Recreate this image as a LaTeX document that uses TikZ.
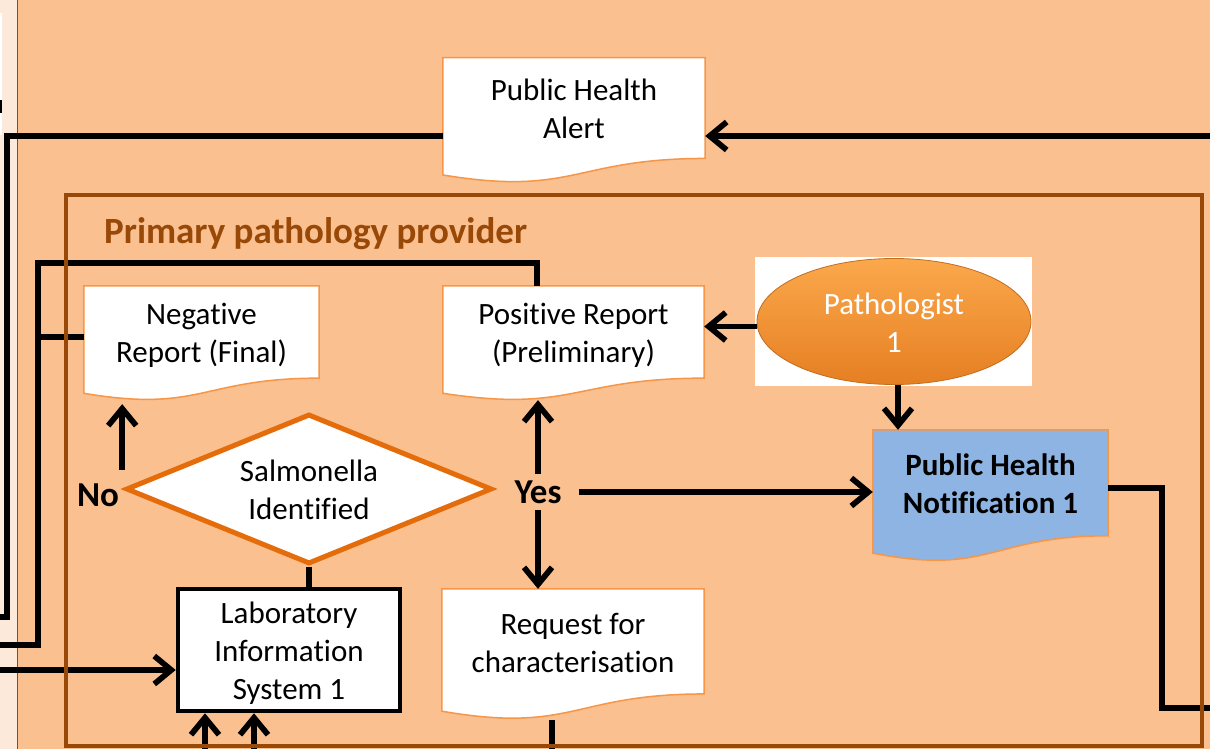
\documentclass[tikz,border=0pt]{standalone}
\usepackage{fontspec}
\setmainfont{Carlito}[Ligatures=CommonOff]
\usetikzlibrary{arrows.meta,shapes.geometric,calc}
\definecolor{peach}{HTML}{FAC090}
\definecolor{pale}{HTML}{FDE9D9}
\definecolor{brownb}{HTML}{984807}
\definecolor{docline}{HTML}{F79646}
\definecolor{dia}{HTML}{E46C0A}
\definecolor{phnblue}{HTML}{8EB4E3}
\definecolor{orTop}{HTML}{FBA84C}
\definecolor{orMid}{HTML}{F7962F}
\definecolor{orBot}{HTML}{E57F22}
\pgfdeclarelayer{back}
\pgfdeclarelayer{shapes}
\pgfsetlayers{back,shapes,main}
\newcommand{\ts}{\rule{0pt}{30.2pt}}
\newcommand{\bs}{\rule[-7pt]{0pt}{7pt}}
\tikzset{
  conn/.style={line width=5.7pt, draw=black},
  arr/.style={conn, -{Straight Barb[length=17pt,width=28pt]}},
  body/.style={font=\fontsize{31}{38}\selectfont},
  doctext/.style={body, draw=none, inner sep=0pt, align=center},
  docfill/.style={draw=docline, line width=1.5pt, fill=white},
  bluefill/.style={draw=docline, line width=1.5pt, fill=phnblue},
  lbl/.style={font=\bfseries\fontsize{35}{41}\selectfont, inner sep=0pt},
}
\newcommand{\docshape}[3]{%
  \path[#3] (#1.north west) -- (#1.north east) -- (#1.south east)
    .. controls (#1.south) and ([yshift=-0.3055*#2pt]#1.south) ..
    ([yshift=-0.132*#2pt]#1.south west) -- cycle;}
\begin{document}
\begin{tikzpicture}[x=1pt,y=-1pt]
\useasboundingbox (0,0) rectangle (1210,749);
\begin{pgfonlayer}{back}
  \fill[peach] (0,0) rectangle (1210,749);
  \fill[pale] (0,0) rectangle (17,749);
  \fill[white] (0,13) rectangle (1.5,135);
  \fill[black] (0,100) rectangle (1.5,113);
  \draw[brownb, line width=1.5pt] (17.5,0) -- (17.5,749);
  \fill[white] (755,257) rectangle (1032,386);
\end{pgfonlayer}

% document-shaped nodes (text area = upper part)
\node[doctext, minimum width=262pt, minimum height=100.3pt] (pha) at (574,108.1) {\ts Public Health\\Alert\bs};
\node[doctext, minimum width=235pt, minimum height=91.9pt] (neg) at (201.5,332) {\ts Negative\\Report (Final)\bs};
\node[doctext, minimum width=261pt, minimum height=91.9pt] (posrep) at (573.5,332) {\ts Positive Report\\(Preliminary)\bs};
\node[doctext, minimum width=262pt, minimum height=104.7pt] (req) at (573,641.4) {\ts Request for\\characterisation\bs};
\node[doctext, font=\bfseries\fontsize{31}{38}\selectfont, minimum width=235pt, minimum height=105.6pt] (phn) at (990.5,482.8) {\ts Public Health\\Notification 1\bs};

\begin{pgfonlayer}{shapes}
  \docshape{pha}{125}{docfill}
  \docshape{neg}{114.6}{docfill}
  \docshape{posrep}{114.6}{docfill}
  \docshape{req}{130.6}{docfill}
  \docshape{phn}{131.7}{bluefill}
\end{pgfonlayer}

\node[diamond, draw=dia, line width=5pt, fill=white, minimum width=366pt, minimum height=150pt,
      inner sep=0pt, aspect=2.42, body, align=center] (sal) at (309,489) {\ts Salmonella\\Identified\bs};
\node[draw=black, line width=4.5pt, fill=white, minimum width=222pt, minimum height=122pt,
      inner sep=0pt, body, align=center] (lis) at (289,650) {\ts Laboratory\\Information\\System 1\bs};
\node[ellipse, minimum width=274pt, minimum height=126pt, top color=orTop, middle color=orMid, bottom color=orBot,
      draw=orBot!85!black, line width=0.8pt, text=white, body, align=center, inner sep=0pt] (pathol) at (894,321.5) {\ts Pathologist\\1\bs};

\node[lbl, minimum width=82pt, minimum height=36pt] (yes) at (538,492) {Yes};
\node[lbl, minimum width=42pt, minimum height=50pt] (no) at (98,495) {No};
\node[anchor=base west, inner sep=0pt, font=\bfseries\fontsize{37}{44}\selectfont, text=brownb] (title) at (104,243) {Primary pathology provider};

% free ends
\coordinate (inR) at (1210,136);
\coordinate (outL1) at (0,617);
\coordinate (outL2) at (0,645);
\coordinate (inL) at (0,670);
\coordinate (outR) at (1210,708);
\coordinate (inB1) at (205,749);
\coordinate (inB2) at (254,749);
\coordinate (outB) at (552,749);
\coordinate (posB) at ($(posrep.south)+(0,22)$);
\coordinate (negB) at ($(neg.south)+(0,26)$);
\coordinate (reqB) at ($(req.south)+(0,26)$);
\coordinate (noS) at ($(no.north east)+(3,0)$);
\coordinate (pathW) at ($(pathol.west)+(0,5)$);
\coordinate (pathS) at ($(pathol.south)+(4,0)$);
\coordinate (posT) at ($(posrep.north)+(-36.5,0)$);
\coordinate (negW) at ($(neg.west)+(0,5)$);
\coordinate (phnE) at ($(phn.east)+(0,5)$);

% connectors
\draw[arr] (inR) -- (inR -| pha.east);
\draw[conn] (pha.west |- inR) -- (7,136) -- (7,617) -- (outL1);
\draw[arr] (pathW) -- (pathW -| posrep.east);
\draw[arr] (pathS) -- (pathS |- phn.north);
\draw[arr] (yes.east) -- (yes.east -| phn.west);
\draw[arr] (yes.north) -- (yes.north |- posB);
\draw[arr] (yes.south) -- (yes.south |- req.north);
\draw[arr] (noS) -- (noS |- negB);
\draw[conn] (sal.south) -- (sal.south |- lis.north);
\draw[conn] (posT) |- (35,263);
\draw[conn] (38,263) |- (outL2);
\draw[conn] (negW) -- (negW -| 38,0);
\draw[arr] (inL) -- (inL -| lis.west);
\draw[arr] (inB1) -- (inB1 |- lis.south);
\draw[arr] (inB2) -- (inB2 |- lis.south);
\draw[conn] (outB) -- (outB |- reqB);
\draw[conn] (phnE) -| (1162,708) -- (outR);

% provider frame
\draw[brownb, line width=4.5pt] (66,195) rectangle (1202,746);
\end{tikzpicture}
\end{document}
